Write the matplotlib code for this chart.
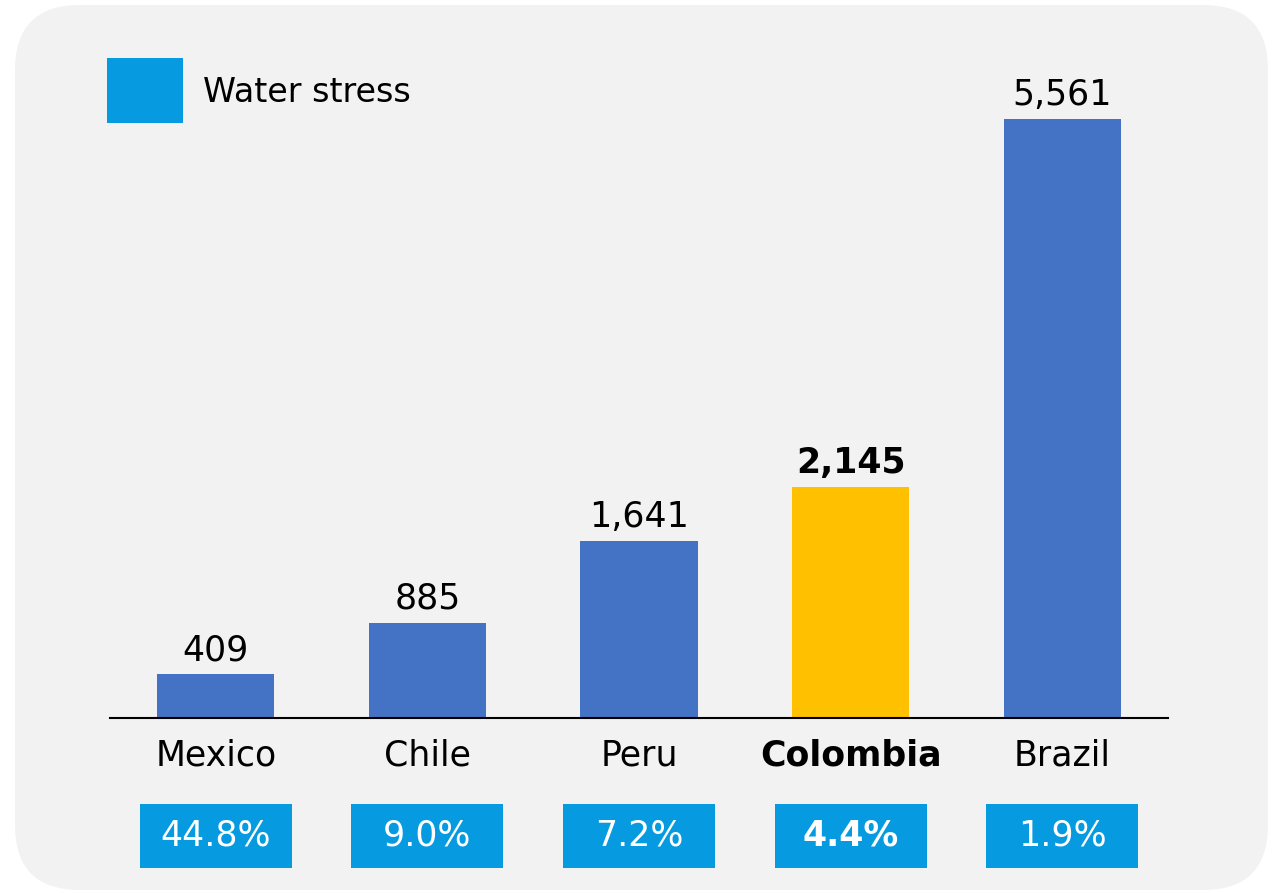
import matplotlib.pyplot as plt
from matplotlib.patches import FancyBboxPatch, Rectangle
from matplotlib.transforms import blended_transform_factory

COUNTRIES = ["Mexico", "Chile", "Peru", "Colombia", "Brazil"]
VALUES = [409, 885, 1641, 2145, 5561]
WATER_STRESS = ["44.8%", "9.0%", "7.2%", "4.4%", "1.9%"]
HIGHLIGHT = "Colombia"

BLUE = "#4472C4"
GOLD = "#FFC000"
STRESS_BLUE = "#069BE0"
PANEL = "#F2F2F2"

plt.rcParams["font.family"] = ["DejaVu Sans"]

W, H = 1273, 893
fig = plt.figure(figsize=(W / 100, H / 100), dpi=100)
fig.patch.set_facecolor("white")

# rounded grey panel behind everything
panel = FancyBboxPatch((0.15, 0.03), 12.53, 8.85,
                       boxstyle="round,pad=0,rounding_size=0.65",
                       transform=fig.dpi_scale_trans,
                       facecolor=PANEL, edgecolor="none", zorder=-5)
fig.patches.append(panel)

ax = fig.add_axes([110 / W, 175 / H, 1058 / W, 657 / H])
ax.set_facecolor("none")
ax.set_zorder(2)

x = list(range(len(COUNTRIES)))
colors = [GOLD if c == HIGHLIGHT else BLUE for c in COUNTRIES]
ax.bar(x, VALUES, width=0.553, color=colors, zorder=2)

ax.set_xlim(-0.5, len(COUNTRIES) - 0.5)
ax.set_ylim(0, 6100)
for s in ["top", "right", "left"]:
    ax.spines[s].set_visible(False)
ax.spines["bottom"].set_linewidth(1.5)
ax.spines["bottom"].set_color("black")
ax.set_yticks([])
ax.set_xticks([])

FS = 25

for i, (c, v) in enumerate(zip(COUNTRIES, VALUES)):
    bold = c == HIGHLIGHT
    ax.annotate(f"{v:,}", (i, v), xytext=(0, 5), textcoords="offset points",
                ha="center", va="bottom", fontsize=FS,
                fontweight="bold" if bold else "normal", color="black")

trans = blended_transform_factory(ax.transData, fig.transFigure)
for i, (c, p) in enumerate(zip(COUNTRIES, WATER_STRESS)):
    bold = c == HIGHLIGHT
    ax.text(i, 1 - 755 / H, c, transform=trans, ha="center", va="center",
            fontsize=FS, fontweight="bold" if bold else "normal", color="black")
    rect = Rectangle((i - 0.359, 1 - 868 / H), 0.718, 64 / H, transform=trans,
                     facecolor=STRESS_BLUE, edgecolor="none", clip_on=False)
    ax.add_patch(rect)
    ax.text(i, 1 - 836 / H, p, transform=trans, ha="center", va="center",
            fontsize=FS, fontweight="bold" if bold else "normal", color="white")

# legend
fig.patches.append(Rectangle((107 / W, 1 - 123 / H), 76 / W, 65 / H,
                             transform=fig.transFigure, facecolor=STRESS_BLUE,
                             edgecolor="none"))
fig.text(203 / W, 1 - 92 / H, "Water stress", ha="left", va="center",
         fontsize=24, color="black")

fig.savefig("out.png", dpi=100)
